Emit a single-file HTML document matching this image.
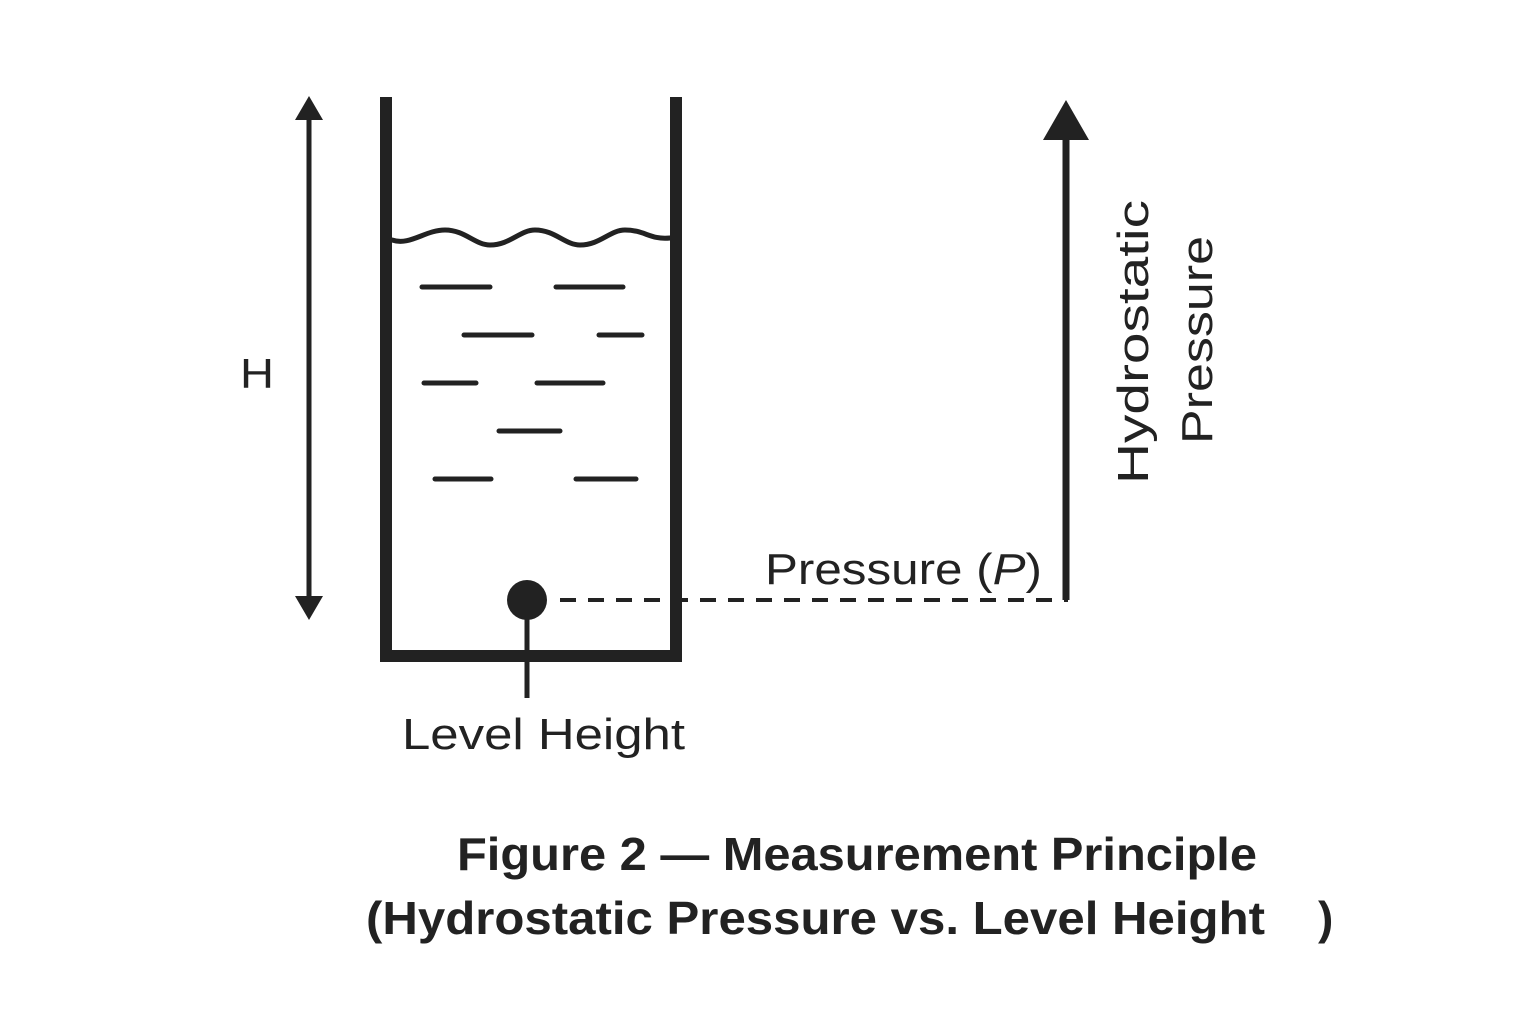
<!DOCTYPE html>
<html><head><meta charset="utf-8"><style>
html,body{margin:0;padding:0;background:#fff}
svg{display:block}
text{font-family:"Liberation Sans",sans-serif;fill:#222}
</style></head><body>
<svg width="1536" height="1024" viewBox="0 0 1536 1024">
<g stroke="#222" fill="none" stroke-linecap="round">
<path d="M386 97 V656 H676 V97" stroke-width="12" stroke-linecap="butt"/>
<path d="M392 240 C410 246 425 230 445 230 C465 230 475 245 490 245 C510 245 520 230 535 230 C555 230 565 245 580 245 C600 245 610 230 625 230 C645 230 650 240 670 238" stroke-width="5"/>
<g stroke-width="5">
<line x1="422" y1="287" x2="490" y2="287"/><line x1="556" y1="287" x2="623" y2="287"/>
<line x1="464" y1="335" x2="532" y2="335"/><line x1="599" y1="335" x2="642" y2="335"/>
<line x1="424" y1="383" x2="476" y2="383"/><line x1="537" y1="383" x2="603" y2="383"/>
<line x1="499" y1="431" x2="560" y2="431"/>
<line x1="435" y1="479" x2="491" y2="479"/><line x1="576" y1="479" x2="636" y2="479"/>
</g>
<line x1="527" y1="600" x2="527" y2="698" stroke-width="5" stroke-linecap="butt"/>
<line x1="560" y1="600" x2="1068" y2="600" stroke-width="4" stroke-dasharray="16 12" stroke-linecap="butt"/>
<line x1="1066" y1="130" x2="1066" y2="600" stroke-width="7" stroke-linecap="butt"/>
<line x1="309" y1="112" x2="309" y2="604" stroke-width="5" stroke-linecap="butt"/>
</g>
<circle cx="527" cy="600" r="20" fill="#222"/>
<polygon points="1066,100 1043,140 1089,140" fill="#222"/>
<polygon points="309,96 295,120 323,120" fill="#222"/>
<polygon points="309,620 295,596 323,596" fill="#222"/>
<text x="240" y="388" font-size="42" textLength="34" lengthAdjust="spacingAndGlyphs">H</text>
<text x="402" y="749" font-size="44" textLength="283" lengthAdjust="spacingAndGlyphs">Level Height</text>
<text x="765" y="584" font-size="44" textLength="277" lengthAdjust="spacingAndGlyphs">Pressure (<tspan font-style="italic">P</tspan>)</text>
<text transform="translate(1148 484) rotate(-90)" font-size="44" textLength="284" lengthAdjust="spacingAndGlyphs">Hydrostatic</text>
<text transform="translate(1212 444) rotate(-90)" font-size="44" textLength="208" lengthAdjust="spacingAndGlyphs">Pressure</text>
<text x="457" y="870" font-size="46" font-weight="bold" textLength="800" lengthAdjust="spacingAndGlyphs">Figure 2 — Measurement Principle</text>
<text x="366" y="934" font-size="46" font-weight="bold" textLength="899" lengthAdjust="spacingAndGlyphs">(Hydrostatic Pressure vs. Level Height</text>
<text x="1318" y="934" font-size="46" font-weight="bold">)</text>
</svg>
</body></html>
